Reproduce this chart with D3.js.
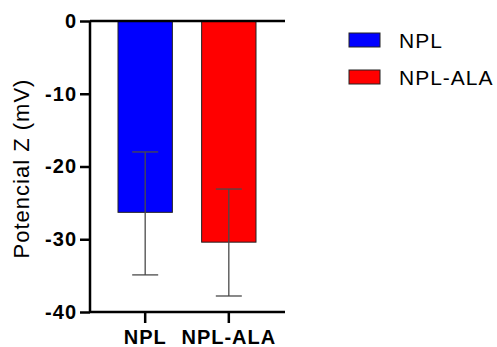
<!DOCTYPE html>
<html>
<head>
<meta charset="utf-8">
<script src="https://cdn.jsdelivr.net/npm/d3@7"></script>
<style>
  body { margin: 0; background: #fff; }
  text { font-family: "Liberation Sans", Arial, sans-serif; }
</style>
</head>
<body>
<div id="chart"></div>
<script>
// DATA
const groups = ["NPL", "NPL-ALA"];
const means = [-26.3, -30.4];
const errHigh = [-18.0, -23.1];
const errLow = [-34.9, -37.8];
const colors = ["#0000ff", "#ff0000"];
const yTicks = [0, -10, -20, -30, -40];

const width = 497, height = 347;
const margin = { top: 21, bottom: 35, left: 90 };
const axisRight = 285;

const svg = d3.select("#chart")
  .append("svg")
  .attr("width", width)
  .attr("height", height);

// SCALES
const xScale = d3.scaleBand()
  .domain(groups)
  .range([118, 256])
  .paddingInner(0.35)
  .paddingOuter(0);

const yScale = d3.scaleLinear()
  .domain([0, -40])
  .range([margin.top, height - margin.bottom]);

// bars
svg.selectAll(".bar")
  .data(groups)
  .join("rect")
  .attr("class", "bar")
  .attr("x", (d) => xScale(d))
  .attr("width", xScale.bandwidth())
  .attr("y", yScale(0))
  .attr("height", (d, i) => yScale(means[i]) - yScale(0))
  .attr("fill", (d, i) => colors[i])
  .attr("stroke", "#222")
  .attr("stroke-width", 1);

// error bars
const eb = svg.selectAll(".err")
  .data(groups)
  .join("g")
  .attr("class", "err")
  .attr("stroke", "#4a4a4a")
  .attr("stroke-width", 1.3);

const cx = (d) => xScale(d) + xScale.bandwidth() / 2;
eb.append("line")
  .attr("x1", cx).attr("x2", cx)
  .attr("y1", (d, i) => yScale(errHigh[i]))
  .attr("y2", (d, i) => yScale(errLow[i]));
[errHigh, errLow].forEach((arr) => {
  eb.append("line")
    .attr("x1", (d) => cx(d) - 13)
    .attr("x2", (d) => cx(d) + 13)
    .attr("y1", (d, i) => yScale(arr[i]))
    .attr("y2", (d, i) => yScale(arr[i]));
});

// AXES
const yAxis = d3.axisLeft(yScale)
  .tickValues(yTicks)
  .tickSize(10)
  .tickPadding(3)
  .tickFormat((d) => String(d));

const gy = svg.append("g")
  .attr("transform", `translate(${margin.left},0)`)
  .call(yAxis);

const xAxis = d3.axisBottom(xScale).tickSize(11).tickPadding(7);
const gx = svg.append("g")
  .attr("transform", `translate(0,${yScale(-40)})`)
  .call(xAxis);

// baseline at zero
svg.append("line")
  .attr("x1", margin.left)
  .attr("x2", axisRight)
  .attr("y1", yScale(0))
  .attr("y2", yScale(0))
  .attr("stroke", "#000")
  .attr("stroke-width", 2.5);

gx.select(".domain").attr("d", `M${margin.left},0H${axisRight}`);
[gx, gy].forEach((g) => {
  g.attr("font-size", null).attr("font-family", null);
  g.select(".domain").attr("stroke", "#000").attr("stroke-width", 2.5);
  g.selectAll(".tick line").attr("stroke", "#000").attr("stroke-width", 2.5);
  g.selectAll(".tick text")
    .attr("fill", "#000")
    .style("font-size", "20px")
    .style("font-weight", "bold")
    .style("letter-spacing", "1px");
});
gy.select(".domain").attr("d", `M0,${yScale(-40)}V${yScale(0)}`);

// y label
svg.append("text")
  .attr("transform", `translate(29,${(yScale(0) + yScale(-40)) / 2 + 2}) rotate(-90)`)
  .attr("text-anchor", "middle")
  .style("font-size", "22px")
  .style("letter-spacing", "1px")
  .text("Potencial Z (mV)");

// legend
const legend = svg.selectAll(".legend")
  .data(groups)
  .join("g")
  .attr("class", "legend")
  .attr("transform", (d, i) => `translate(349,${33 + i * 37})`);
legend.append("rect")
  .attr("width", 31)
  .attr("height", 14)
  .attr("fill", (d, i) => colors[i])
  .attr("stroke", "#222")
  .attr("stroke-width", 1);
legend.append("text")
  .attr("x", 50)
  .attr("y", 7)
  .attr("dy", "0.36em")
  .style("font-size", "21px")
  .style("letter-spacing", "1px")
  .text((d) => d);
</script>
</body>
</html>
